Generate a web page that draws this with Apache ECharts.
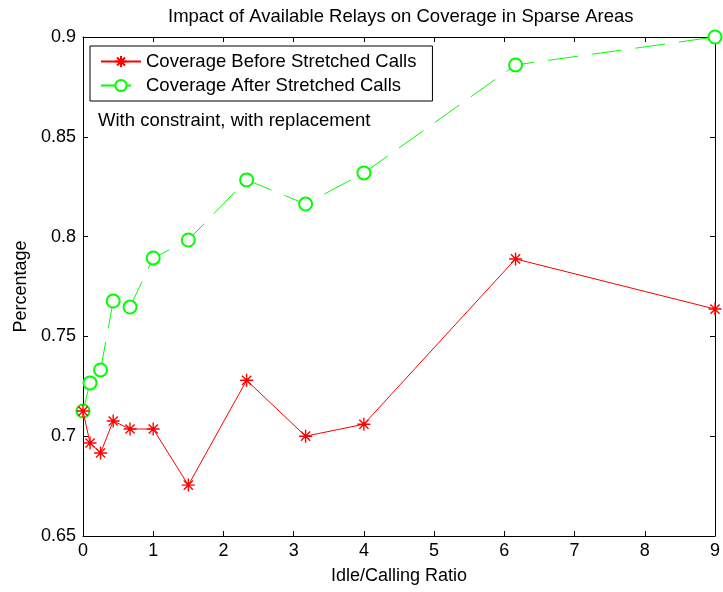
<!DOCTYPE html>
<html>
<head>
<meta charset="utf-8">
<script src="https://cdn.jsdelivr.net/npm/echarts@6/dist/echarts.min.js"></script>
<style>html,body{margin:0;padding:0;background:#fff;}#c{width:723px;height:592px;}</style>
</head>
<body>
<div id="c"></div>
<script>
var xRatio = [0, 0.1, 0.25, 0.43, 0.67, 1, 1.5, 2.33, 3.17, 4, 6.16, 9];
var before = [0.7126, 0.6966, 0.6916, 0.7076, 0.7036, 0.7036, 0.6755, 0.728, 0.700, 0.706, 0.7888, 0.7637];
var after = [0.7126, 0.7267, 0.7332, 0.7677, 0.7647, 0.7893, 0.7983, 0.8284, 0.8163, 0.8319, 0.886, 0.900];
var seriesNames = ['Coverage Before Stretched Calls', 'Coverage After Stretched Calls'];
var titleText = 'Impact of Available Relays on Coverage in Sparse Areas';
var noteText = 'With constraint, with replacement';
var xName = 'Idle/Calling Ratio';
var yName = 'Percentage';

function pairs(xs, ys) { return xs.map(function (x, i) { return [x, ys[i]]; }); }
var FONT = '"Liberation Sans", Arial, sans-serif';
var star = 'path://M0,6L12,6M6,0L6,12M1.76,1.76L10.24,10.24M1.76,10.24L10.24,1.76';

var chart = echarts.init(document.getElementById('c'), null, {renderer: 'canvas'});
var tickStyle = {show: true, inside: true, length: 5, lineStyle: {color: '#000', width: 1}};
var axisLineStyle = {show: true, onZero: false, lineStyle: {color: '#000', width: 1}};
chart.setOption({
  animation: false,
  backgroundColor: '#fff',
  title: {
    text: titleText, left: 163, top: 2,
    textStyle: {fontFamily: FONT, fontSize: 18.5, fontWeight: 'normal', color: '#000'}
  },
  legend: {
    orient: 'vertical', left: 90, top: 46,
    padding: [6, 16, 6, 10], itemGap: 5, itemWidth: 40, itemHeight: 14,
    borderColor: '#000', borderWidth: 1, backgroundColor: '#fff',
    textStyle: {fontFamily: FONT, fontSize: 18.5, color: '#000'},
    data: seriesNames
  },
  graphic: [{
    type: 'text', left: 98, top: 111,
    style: {text: noteText, font: '18.5px ' + FONT, fill: '#000'}
  }],
  grid: {left: 83, right: 7, top: 37, bottom: 56, containLabel: false},
  xAxis: [{
    type: 'value', min: 0, max: 9, interval: 1, position: 'bottom',
    name: xName, nameLocation: 'middle', nameGap: 31,
    nameTextStyle: {fontFamily: FONT, fontSize: 18, color: '#000'},
    axisLine: axisLineStyle, axisTick: tickStyle,
    axisLabel: {fontFamily: FONT, fontSize: 18, color: '#000', margin: 6},
    splitLine: {show: false}
  }, {
    type: 'value', min: 0, max: 9, interval: 1, position: 'top',
    axisLine: axisLineStyle, axisTick: tickStyle,
    axisLabel: {show: false}, splitLine: {show: false}
  }],
  yAxis: [{
    type: 'value', min: 0.65, max: 0.9, interval: 0.05, position: 'left',
    name: yName, nameLocation: 'middle', nameGap: 50, nameRotate: 90,
    nameTextStyle: {fontFamily: FONT, fontSize: 18, color: '#000'},
    axisLine: axisLineStyle, axisTick: tickStyle,
    axisLabel: {fontFamily: FONT, fontSize: 18, color: '#000', margin: 7,
      formatter: function (v) { return String(+v.toFixed(2)); }},
    splitLine: {show: false}
  }, {
    type: 'value', min: 0.65, max: 0.9, interval: 0.05, position: 'right',
    axisLine: axisLineStyle, axisTick: tickStyle,
    axisLabel: {show: false}, splitLine: {show: false}
  }],
  series: [{
    name: seriesNames[0], type: 'line', data: pairs(xRatio, before),
    xAxisIndex: 0, yAxisIndex: 0,
    symbol: star, symbolSize: 13,
    lineStyle: {color: '#ff0000', width: 1},
    itemStyle: {color: '#ff0000', borderColor: '#ff0000', borderWidth: 1.4},
    z: 3
  }, {
    name: seriesNames[1], type: 'line', data: pairs(xRatio, after),
    xAxisIndex: 0, yAxisIndex: 0,
    symbol: 'emptyCircle', symbolSize: 13,
    lineStyle: {color: '#00ff00', width: 1, type: [30, 14]},
    itemStyle: {color: '#00ff00', borderColor: '#00ff00', borderWidth: 1},
    z: 2
  }]
});
</script>
</body>
</html>
